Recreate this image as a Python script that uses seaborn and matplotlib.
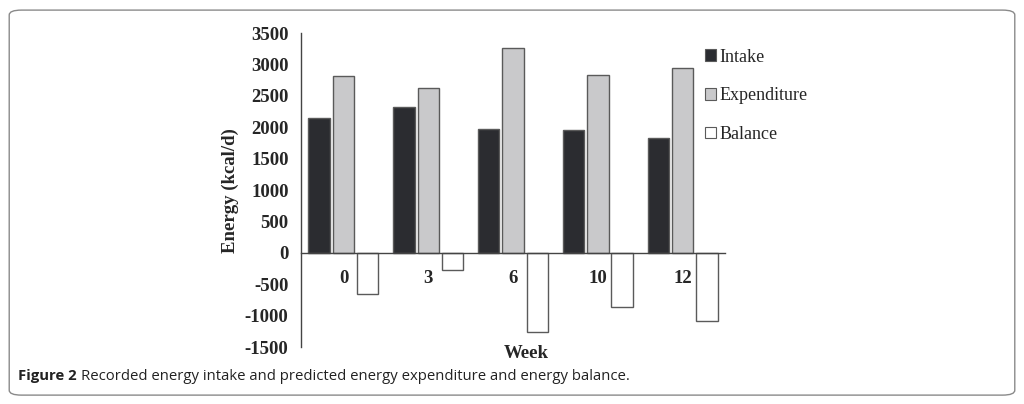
import matplotlib
matplotlib.use('Agg')
import matplotlib.pyplot as plt
from matplotlib.patches import FancyBboxPatch, Patch
import pandas as pd
import seaborn as sns

sns.set_theme(style='white')
plt.rcParams['font.family'] = ['Liberation Serif', 'DejaVu Serif']
plt.rcParams['axes.unicode_minus'] = False

weeks = ['0', '3', '6', '10', '12']
intake = [2150, 2330, 1980, 1960, 1830]
expenditure = [2820, 2620, 3260, 2840, 2940]
balance = [-660, -280, -1260, -870, -1090]
series = ['Intake', 'Expenditure', 'Balance']
colors = ['#2a2c31', '#c9c9cb', '#ffffff']

df = pd.DataFrame({
    'week': weeks * 3,
    'energy': intake + expenditure + balance,
    'series': [s for s in series for _ in weeks],
})

fig = plt.figure(figsize=(10.24, 4.04), dpi=100)
ax = fig.add_axes([0.294, 0.141, 0.414, 0.777])

sns.barplot(data=df, x='week', y='energy', hue='series', hue_order=series,
            order=weeks, palette=colors, width=0.86, gap=0.12,
            edgecolor='#5a5a5a', linewidth=1.0, legend=False, ax=ax)

ax.set_ylim(-1500, 3500)
ax.set_xlim(-0.5, 4.5)
ax.set_yticks(range(-1500, 3501, 500))
ax.spines['top'].set_visible(False)
ax.spines['right'].set_visible(False)
ax.spines['bottom'].set_position(('data', 0))
for s in ['left', 'bottom']:
    ax.spines[s].set_color('#444444')
    ax.spines[s].set_linewidth(1.0)

ax.tick_params(axis='y', which='major', direction='out', length=5, width=1,
               color='#444444', labelsize=13.5, pad=4)
for lab in ax.get_yticklabels():
    lab.set_fontweight('bold')
ax.tick_params(axis='x', which='major', length=0, labelsize=13.5, pad=12)
for lab in ax.get_xticklabels():
    lab.set_fontweight('bold')
ax.set_xticks([0.5, 1.5, 2.5, 3.5, 4.5], minor=True)
ax.tick_params(axis='x', which='minor', direction='out', length=5, width=1,
               color='#444444')

ax.set_ylabel('Energy (kcal/d)', fontsize=13.5, fontweight='bold', labelpad=4)
ax.set_xlabel('Week', fontsize=13.5, fontweight='bold')
ax.xaxis.set_label_coords(0.53, 0.005)

handles = [Patch(facecolor=c, edgecolor='#5a5a5a', linewidth=0.8) for c in colors]
fig.legend(handles, series, loc='upper left', bbox_to_anchor=(0.673, 0.92),
           frameon=False, fontsize=13, handlelength=0.6, handleheight=0.6,
           handletextpad=0.2, labelspacing=1.2)

box = FancyBboxPatch((0.009, 0.022), 0.982, 0.953, transform=fig.transFigure,
                     boxstyle='round,pad=0,rounding_size=0.012',
                     facecolor='none', edgecolor='#8a8a8a', linewidth=1.0)
fig.patches.append(box)

fig.text(0.018, 0.059, 'Figure 2', fontsize=10.7, fontweight='bold',
         family=['Open Sans', 'DejaVu Sans'], color='#222222')
fig.text(0.079, 0.059, 'Recorded energy intake and predicted energy expenditure and energy balance.',
         fontsize=10.7, family=['Open Sans', 'DejaVu Sans'], color='#222222')

fig.savefig('out.png', dpi=100)
